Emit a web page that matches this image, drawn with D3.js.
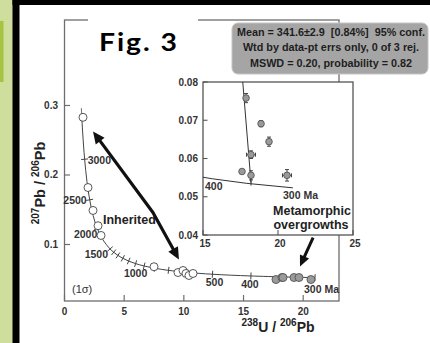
<!DOCTYPE html>
<html><head><meta charset="utf-8">
<script src="https://cdn.jsdelivr.net/npm/d3@7"></script>
<style>
html,body{margin:0;padding:0;background:#fff;}
svg{display:block;font-family:Arial,"Liberation Sans",sans-serif;}
</style></head><body>
<svg id="chart" width="430" height="343"></svg>
<script>
// concordia reference points (age Ma, 238U/206Pb, 207Pb/206Pb)
const concAge = [300,400,500,600,700,800,900,1000,1100,1200,1300,1400,1500,1750,2000,2250,2500,2750,3000,3250,3400,3450];
const concX   = [20.99,15.62,12.40,10.25,8.718,7.569,6.674,5.959,5.375,4.888,4.475,4.123,3.817,3.206,2.749,2.394,2.111,1.880,1.687,1.525,1.440,1.413];
const concY   = [0.0523,0.0547,0.0572,0.0599,0.0628,0.0658,0.0691,0.0725,0.0762,0.0801,0.0843,0.0888,0.0936,0.1071,0.1230,0.1419,0.1643,0.1909,0.2227,0.2605,0.2867,0.2961];
const tickAges = [300,400,500,600,700,800,900,1000,1100,1200,1300,1400,1500,2000,2500,3000];
const labelAges = [3000,2500,2000,1500,1000,500,400,300];
const labelText = ['3000','2500','2000','1500','1000','500','400','300 Ma'];

// inherited grains (open circles)
const inhX = [1.55,1.97,2.39,2.81,3.06,7.50,9.51,9.93,10.18,10.43,10.77];
const inhY = [0.283,0.182,0.149,0.127,0.113,0.068,0.0597,0.0626,0.0583,0.0554,0.0583];
// metamorphic overgrowths (grey)
const metX = [17.72,18.22,18.31,19.23,19.65,20.65];
const metY = [0.0496,0.0525,0.0525,0.0525,0.0525,0.0496];

// inset
const insConcX = [14.854,15.621,17.923,20.992];
const insConcY = [0.05520,0.05470,0.05350,0.05233];
const insX    = [17.87,18.87,19.40,18.20,17.60,18.20,20.60];
const insY    = [0.0758,0.0691,0.0644,0.0610,0.0566,0.0556,0.0556];
const insXErr = [0,0,0,0.3,0,0,0.3];
const insYErr = [0.0012,0.0008,0.0012,0.0010,0,0.0012,0.0015];
const regX = [17.65,18.20];
const regY = [0.0800,0.0537];

const xTicks = [0,5,10,15,20];
const yTicks = [0.1,0.2,0.3];
const insXTicks = [15,20,25];
const insYTicks = [0.04,0.05,0.06,0.07,0.08];
const statLines = ['Mean = 341.6\u00b12.9  [0.84%]  95% conf.',
                   'Wtd by data-pt errs only, 0 of 3 rej.',
                   'MSWD = 0.20, probability = 0.82'];

const svg = d3.select('#chart');
const frameCol = '#6e6e6e';
const txtCol = '#333';

// page decoration
svg.append('rect').attr('x',0).attr('y',0).attr('width',13).attr('height',343).attr('fill','#cfdd9d');
svg.append('rect').attr('x',0).attr('y',21).attr('width',3.5).attr('height',61).attr('fill','#a6c443');
svg.append('rect').attr('x',12.5).attr('y',0).attr('width',7).attr('height',343).attr('fill','#000');
svg.append('rect').attr('x',12.5).attr('y',0).attr('width',418).attr('height',5).attr('fill','#000');

const x = d3.scaleLinear().domain([0,23]).range([64.5,339]);
const y = d3.scaleLinear().domain([0.0187,0.423]).range([301,20]);

svg.append('rect').attr('x',64.5).attr('y',20).attr('width',339-64.5).attr('height',281)
  .attr('fill','none').attr('stroke',frameCol).attr('stroke-width',1.3);

xTicks.forEach(t => {
  svg.append('line').attr('x1',x(t)).attr('x2',x(t)).attr('y1',301).attr('y2',295)
    .attr('stroke',frameCol).attr('stroke-width',1.2);
  svg.append('text').attr('x',x(t)).attr('y',315).attr('text-anchor','middle')
    .attr('font-size','10px').attr('font-weight','bold').attr('fill',txtCol).text(t);
});
yTicks.forEach(t => {
  svg.append('line').attr('x1',64.5).attr('x2',70).attr('y1',y(t)).attr('y2',y(t))
    .attr('stroke',frameCol).attr('stroke-width',1.2);
  svg.append('text').attr('x',58).attr('y',y(t)+3.5).attr('text-anchor','end')
    .attr('font-size','10px').attr('font-weight','bold').attr('fill',txtCol).text(t);
});

// axis titles
const xt = svg.append('text').attr('x',278).attr('y',332).attr('text-anchor','middle')
  .attr('font-weight','bold').attr('fill','#222').attr('font-size','14px');
xt.append('tspan').attr('font-size','10px').attr('dy',-6).text('238');
xt.append('tspan').attr('dy',6).text('U / ');
xt.append('tspan').attr('font-size','10px').attr('dy',-6).text('206');
xt.append('tspan').attr('dy',6).text('Pb');

const yt = svg.append('text').attr('transform','translate(45,183) rotate(-90)').attr('text-anchor','middle')
  .attr('font-weight','bold').attr('fill','#222').attr('font-size','14.5px');
yt.append('tspan').attr('font-size','10px').attr('dy',-6).text('207');
yt.append('tspan').attr('dy',6).text('Pb / ');
yt.append('tspan').attr('font-size','10px').attr('dy',-6).text('206');
yt.append('tspan').attr('dy',6).text('Pb');

// concordia
const conc = concX.map((v,i) => [x(v), y(concY[i])]);
svg.append('path').attr('d', d3.line().curve(d3.curveCatmullRom)(conc))
  .attr('fill','none').attr('stroke','#444').attr('stroke-width',1);

function normalAt(pts, i) {
  const a = pts[Math.max(0,i-1)], b = pts[Math.min(pts.length-1,i+1)];
  const dx = b[0]-a[0], dy = b[1]-a[1], L = Math.hypot(dx,dy);
  return [-dy/L, dx/L];
}
tickAges.forEach(age => {
  const i = concAge.indexOf(age);
  const p = conc[i], n = normalAt(conc, i);
  svg.append('line').attr('x1',p[0]-n[0]*3.5).attr('y1',p[1]-n[1]*3.5)
    .attr('x2',p[0]+n[0]*3.5).attr('y2',p[1]+n[1]*3.5)
    .attr('stroke','#444').attr('stroke-width',1);
});

const labelOff = {3000:[3,5,'start'],2500:[-3,4,'end'],2000:[0,9,'end'],1500:[-2,9,'end'],
                  1000:[0,13,'middle'],500:[2,12,'middle'],400:[-1,12,'middle'],300:[-11,15,'start']};
labelAges.forEach((age,k) => {
  const p = conc[concAge.indexOf(age)], o = labelOff[age];
  svg.append('text').attr('x',p[0]+o[0]).attr('y',p[1]+o[1]).attr('text-anchor',o[2])
    .attr('font-size','10.5px').attr('font-weight','bold').attr('fill',txtCol).text(labelText[k]);
});

// points
svg.selectAll('circle.inh').data(inhX).enter().append('circle').attr('class','inh')
  .attr('cx',d => x(d)).attr('cy',(d,i) => y(inhY[i])).attr('r',4)
  .attr('fill','#fff').attr('stroke','#444').attr('stroke-width',0.9);
svg.selectAll('circle.met').data(metX).enter().append('circle').attr('class','met')
  .attr('cx',d => x(d)).attr('cy',(d,i) => y(metY[i])).attr('r',4)
  .attr('fill','#9a9a9a').attr('stroke','#555').attr('stroke-width',0.9);

svg.append('text').attr('x',72).attr('y',293).attr('font-size','11px').attr('fill',txtCol).text('(1\u03c3)');
svg.append('text').attr('x',103).attr('y',224).attr('font-size','12.5px').attr('font-weight','bold')
  .attr('fill','#222').text('Inherited');

// arrows
function arrowHead(p, q, len, w) {
  const dx = q[0]-p[0], dy = q[1]-p[1], L = Math.hypot(dx,dy);
  const ux = dx/L, uy = dy/L;
  const bx = q[0]-ux*len, by = q[1]-uy*len;
  return `M${q[0]},${q[1]}L${bx-uy*w},${by+ux*w}L${bx+uy*w},${by-ux*w}Z`;
}
const inhArrow = [[2.39,0.2626],[7.41,0.146],[9.59,0.0784]].map(d => [x(d[0]), y(d[1])]);
const a0 = inhArrow[0], a1 = inhArrow[1], a2 = inhArrow[2];
const shrink = (p,q,s) => { const L = Math.hypot(q[0]-p[0],q[1]-p[1]); return [q[0]-(q[0]-p[0])/L*s, q[1]-(q[1]-p[1])/L*s]; };
svg.append('path').attr('d', d3.line()([shrink(a1,a0,8), a1, shrink(a1,a2,8)]))
  .attr('fill','none').attr('stroke','#111').attr('stroke-width',3.2).attr('stroke-linejoin','round');
svg.append('path').attr('d', arrowHead(a1,a0,12,5.5)).attr('fill','#111');
svg.append('path').attr('d', arrowHead(a1,a2,12,5.5)).attr('fill','#111');

// inset
const xi = d3.scaleLinear().domain([15,25]).range([203,353]);
const yi = d3.scaleLinear().domain([0.04,0.08]).range([235,82]);
svg.append('rect').attr('x',203).attr('y',82).attr('width',150).attr('height',153)
  .attr('fill','#fff').attr('stroke','#555').attr('stroke-width',1.3);
svg.append('clipPath').attr('id','ic').append('rect').attr('x',203).attr('y',82).attr('width',150).attr('height',153);
const ig = svg.append('g').attr('clip-path','url(#ic)');

insYTicks.forEach(t => {
  svg.append('line').attr('x1',203).attr('x2',207.5).attr('y1',yi(t)).attr('y2',yi(t))
    .attr('stroke','#555').attr('stroke-width',1.1);
  svg.append('text').attr('x',198).attr('y',yi(t)+3.5).attr('text-anchor','end')
    .attr('font-size','10px').attr('font-weight','bold').attr('fill',txtCol).text(t.toFixed(2));
});
insXTicks.forEach(t => {
  svg.append('line').attr('x1',xi(t)).attr('x2',xi(t)).attr('y1',235).attr('y2',230)
    .attr('stroke','#555').attr('stroke-width',1.1);
  svg.append('text').attr('x',xi(t)+2).attr('y',247).attr('text-anchor','middle')
    .attr('font-size','10px').attr('font-weight','bold').attr('fill',txtCol).text(t);
});

ig.append('path').attr('d', d3.line()(insConcX.map((v,i) => [xi(v), yi(insConcY[i])])))
  .attr('fill','none').attr('stroke','#333').attr('stroke-width',1);
ig.append('path').attr('d', d3.line()(regX.map((v,i) => [xi(v), yi(regY[i])])))
  .attr('fill','none').attr('stroke','#333').attr('stroke-width',1);
ig.append('line').attr('x1',xi(regX[1])).attr('x2',xi(regX[1])).attr('y1',yi(regY[1])-4).attr('y2',yi(regY[1])+3)
  .attr('stroke','#333').attr('stroke-width',1);

insX.forEach((v,i) => {
  const cx = xi(v), cy = yi(insY[i]);
  if (insYErr[i] > 0) {
    const y1 = yi(insY[i]+insYErr[i]), y2 = yi(insY[i]-insYErr[i]);
    ig.append('path').attr('d',`M${cx},${y1}V${y2}M${cx-2},${y1}H${cx+2}M${cx-2},${y2}H${cx+2}`)
      .attr('stroke','#444').attr('stroke-width',1).attr('fill','none');
  }
  if (insXErr[i] > 0) {
    const x1 = xi(v-insXErr[i]), x2 = xi(v+insXErr[i]);
    ig.append('path').attr('d',`M${x1},${cy}H${x2}M${x1},${cy-2}V${cy+2}M${x2},${cy-2}V${cy+2}`)
      .attr('stroke','#444').attr('stroke-width',1).attr('fill','none');
  }
  ig.append('circle').attr('cx',cx).attr('cy',cy).attr('r',3.3)
    .attr('fill','#9a9a9a').attr('stroke','#555').attr('stroke-width',0.9);
});

svg.append('text').attr('x',205).attr('y',190).attr('font-size','10.5px').attr('font-weight','bold').attr('fill',txtCol).text('400');
svg.append('text').attr('x',283).attr('y',199).attr('font-size','10.5px').attr('font-weight','bold').attr('fill',txtCol).text('300 Ma');
svg.append('text').attr('x',312).attr('y',215).attr('text-anchor','middle').attr('font-size','12.5px')
  .attr('font-weight','bold').attr('fill','#222').text('Metamorphic');
svg.append('text').attr('x',311).attr('y',229).attr('text-anchor','middle').attr('font-size','12.5px')
  .attr('font-weight','bold').attr('fill','#222').text('overgrowths');

// metamorphic arrow
const m0 = [x(20.83), y(0.110)], m1 = [x(19.73), y(0.0683)];
svg.append('path').attr('d', d3.line()([m0, shrink(m0,m1,8)]))
  .attr('stroke','#111').attr('stroke-width',3).attr('fill','none');
svg.append('path').attr('d', arrowHead(m0,m1,11,5)).attr('fill','#111');

// stats box
svg.append('rect').attr('x',232).attr('y',23).attr('width',196).attr('height',51).attr('rx',6)
  .attr('fill','#a5a5a5').attr('stroke','#c4c4c4').attr('stroke-width',1);
statLines.forEach((s,i) => {
  svg.append('text').attr('x',331).attr('y',35.5 + i*15.5).attr('text-anchor','middle')
    .attr('font-size','10.8px').attr('font-weight','bold').attr('fill','#1e1e1e')
    .attr('xml:space','preserve').style('white-space','pre').text(s);
});

// figure label (source text is horizontally stretched)
svg.append('rect').attr('x',88).attr('y',12).attr('width',110).attr('height',48).attr('fill','#fff');
svg.append('text').attr('transform','translate(99,51) scale(1.18,1)')
  .attr('font-family','Lato, "Open Sans", sans-serif')
  .attr('font-size','24px').attr('font-weight','bold').attr('fill','#000')
  .attr('textLength',66).attr('lengthAdjust','spacing').text('Fig. 3');
</script>
</body></html>
